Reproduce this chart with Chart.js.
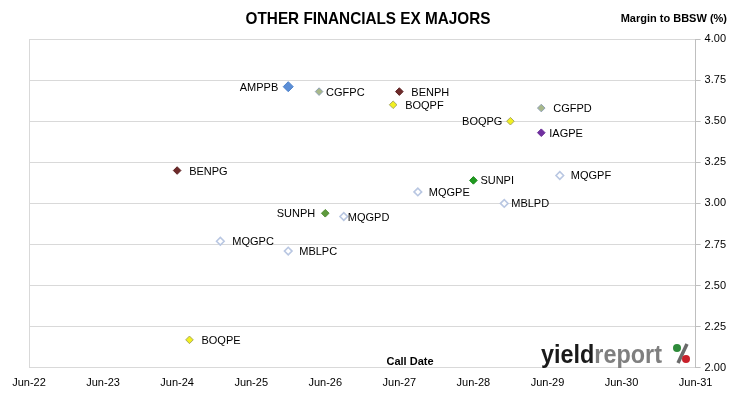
<!DOCTYPE html>
<html>
<head>
<meta charset="utf-8">
<script src="https://cdn.jsdelivr.net/npm/chart.js@4.4.1/dist/chart.umd.min.js"></script>
<style>
  html, body { margin: 0; padding: 0; background: #fff; }
  #wrap { width: 730px; height: 399px; position: relative; }
</style>
</head>
<body>
<div id="wrap"><canvas id="chart1"></canvas></div>
<script>
// securities, call dates (yyyy-mm) and margins to BBSW (%)
var names = ['AMPPB', 'CGFPC', 'BENPH', 'BOQPF', 'CGFPD', 'BOQPG', 'IAGPE', 'BENPG', 'MQGPF',
             'SUNPI', 'MQGPE', 'MBLPD', 'SUNPH', 'MQGPD', 'MQGPC', 'MBLPC', 'BOQPE'];
var callDates = ['2025-12', '2026-05', '2027-06', '2027-05', '2029-05', '2028-12', '2029-05', '2024-06', '2029-08',
                 '2028-06', '2027-09', '2028-11', '2026-06', '2026-09', '2025-01', '2025-12', '2024-08'];
var margins = [3.71, 3.68, 3.68, 3.60, 3.58, 3.50, 3.43, 3.20, 3.17,
               3.14, 3.07, 3.00, 2.94, 2.92, 2.77, 2.71, 2.17];
var xTickLabels = ['Jun-22', 'Jun-23', 'Jun-24', 'Jun-25', 'Jun-26', 'Jun-27', 'Jun-28', 'Jun-29', 'Jun-30', 'Jun-31'];
var yTicks = [2.00, 2.25, 2.50, 2.75, 3.00, 3.25, 3.50, 3.75, 4.00];

// colours by issuer
var issuerColour = {
  AMP: ['#5b8ed6', '#4a7fc8'],
  CGF: ['#a8b88a', '#8fa0b4'],
  BEN: ['#6e2a2a', '#5a2020'],
  BOQ: ['#f2f020', '#a8a860'],
  IAG: ['#7030a0', '#6a2c96'],
  SUN: ['#1f9a1f', '#1a8a1a'],
  MQG: ['#ffffff', '#b9c7e2'],
  MBL: ['#ffffff', '#b9c7e2']
};
// label gap from point, negative = left side
var labelGap = { AMPPB: -10, CGFPC: 7, BENPH: 12, BOQPF: 12, CGFPD: 12, BOQPG: -8, IAGPE: 8, BENPG: 12, MQGPF: 11,
                 SUNPI: 7, MQGPE: 11, MBLPD: 7, SUNPH: -10, MQGPD: 4, MQGPC: 12, MBLPC: 11, BOQPE: 12 };

function toYear(d) {
  var p = d.split('-');
  return +p[0] + (+p[1] - 1) / 12;
}
var xStart = toYear('2022-06');

var points = names.map(function (n, i) { return { x: toYear(callDates[i]), y: margins[i] }; });

var fill = names.map(function (n) {
  if (n == 'SUNPH') return '#5e9a3c';
  return issuerColour[n.slice(0, 3)][0];
});
var edge = names.map(function (n) {
  if (n == 'SUNPH') return '#4e8a30';
  return issuerColour[n.slice(0, 3)][1];
});
var radius = names.map(function (n) { return n == 'AMPPB' ? 5 : 3.8; });
var bw = names.map(function (n) { return (n.slice(0, 3) == 'MQG' || n.slice(0, 3) == 'MBL') ? 1.6 : 1; });

var extras = {
  id: 'extras',
  afterDatasetsDraw: function (chart) {
    var c = chart.ctx, ca = chart.chartArea;
    var meta = chart.getDatasetMeta(0);
    c.save();
    // left border
    c.strokeStyle = '#d9d9d9';
    c.lineWidth = 1;
    c.beginPath();
    c.moveTo(Math.round(ca.left) + 0.5, ca.top);
    c.lineTo(Math.round(ca.left) + 0.5, ca.bottom);
    c.stroke();

    // point labels
    c.font = '11px "Liberation Sans", Arial, sans-serif';
    c.fillStyle = '#000';
    c.textBaseline = 'middle';
    meta.data.forEach(function (el, i) {
      var g = labelGap[names[i]];
      c.textAlign = g < 0 ? 'right' : 'left';
      c.fillText(names[i], el.x + g, el.y + 1);
    });

    // title (squeezed a bit to look condensed)
    c.save();
    c.font = 'bold 17px "Liberation Sans", Arial, sans-serif';
    c.textAlign = 'center';
    c.translate(368, 19);
    c.scale(0.9, 1);
    c.fillText('OTHER FINANCIALS EX MAJORS', 0, 0);
    c.restore();

    c.font = 'bold 11px "Liberation Sans", Arial, sans-serif';
    c.textAlign = 'right';
    c.fillText('Margin to BBSW (%)', 727, 19);

    c.textAlign = 'center';
    c.fillText('Call Date', 410, 362);

    // logo
    c.save();
    c.textAlign = 'left';
    c.textBaseline = 'alphabetic';
    c.font = 'bold 26px "Liberation Sans", Arial, sans-serif';
    c.translate(541, 363);
    c.scale(0.9, 1);
    c.fillStyle = '#1a1a1a';
    c.fillText('yield', 0, 0);
    var lx = c.measureText('yield').width;
    c.fillStyle = '#7f7f7f';
    c.fillText('report', lx, 0);
    c.restore();
    var px = 673, py = 363;
    c.fillStyle = '#2e8b3a';
    c.beginPath(); c.arc(px + 4, py - 15, 4, 0, Math.PI * 2); c.fill();
    c.strokeStyle = '#6a6a6a';
    c.lineWidth = 3.5;
    c.beginPath(); c.moveTo(px + 14, py - 19); c.lineTo(px + 5, py); c.stroke();
    c.fillStyle = '#c8202a';
    c.beginPath(); c.arc(px + 13, py - 4, 4, 0, Math.PI * 2); c.fill();
    c.restore();
  }
};

var ctx = document.getElementById('chart1').getContext('2d');
var myChart = new Chart(ctx, {
  type: 'scatter',
  data: {
    datasets: [{
      data: points,
      pointStyle: 'rectRot',
      pointRadius: radius,
      pointHoverRadius: radius,
      backgroundColor: fill,
      borderColor: edge,
      borderWidth: bw
    }]
  },
  options: {
    responsive: true,
    maintainAspectRatio: false,
    animation: false,
    events: [],
    layout: { padding: { top: 39, left: 29, right: 0, bottom: 0 } },
    plugins: {
      legend: { display: false },
      tooltip: { enabled: false }
    },
    scales: {
      x: {
        type: 'linear',
        min: xStart,
        max: xStart + 9,
        afterBuildTicks: function (axis) {
          axis.ticks = xTickLabels.map(function (l, i) { return { value: xStart + i }; });
        },
        grid: { display: false, drawTicks: false },
        border: { display: false },
        ticks: {
          color: '#000',
          padding: 9,
          maxRotation: 0,
          font: { family: '"Liberation Sans", Arial, sans-serif', size: 11 },
          callback: function (v, i) { return xTickLabels[i]; }
        }
      },
      y: {
        position: 'right',
        min: 2,
        max: 4,
        afterBuildTicks: function (axis) {
          axis.ticks = yTicks.map(function (v) { return { value: v }; });
        },
        grid: { color: '#d9d9d9', tickLength: 5, tickColor: '#bfbfbf' },
        border: { display: true, color: '#bfbfbf' },
        ticks: {
          color: '#000',
          padding: 4,
          font: { family: '"Liberation Sans", Arial, sans-serif', size: 11 },
          callback: function (v) { return v.toFixed(2); }
        }
      }
    }
  },
  plugins: [extras]
});
</script>
</body>
</html>
